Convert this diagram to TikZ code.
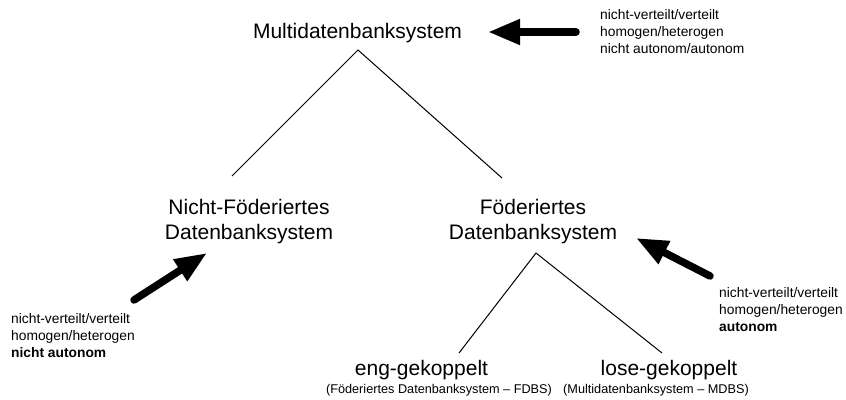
\documentclass[tikz,border=0pt]{standalone}
\usepackage{fontspec}
\setmainfont{Liberation Sans}
\usetikzlibrary{arrows.meta}
\begin{document}
\begin{tikzpicture}[x=1pt,y=-1pt,
  title/.style={font=\fontsize{21}{25}\selectfont, align=center, inner sep=0pt, anchor=base},
  subtitle/.style={font=\fontsize{12.7}{15}\selectfont, inner sep=0pt, anchor=base},
  note/.style={font=\fontsize{13.8}{17}\selectfont, align=left, inner sep=0pt, anchor=base west},
  branch/.style={line width=1pt},
  bigarrow/.style={line width=7.5pt, line cap=round, -{Triangle[length=32pt,width=24pt]}}]
\useasboundingbox (0,0) rectangle (846,399);

% hierarchy labels (multi-line nodes are placed by their last baseline)
\node[title] (mdbs) at (357.5,38) {Multidatenbanksystem};
\node[title] (nfdbs) at (249,239) {Nicht-Föderiertes\\Datenbanksystem};
\node[title] (fdbs) at (533,239) {Föderiertes\\Datenbanksystem};
\node[title] (eng) at (421.5,375) {eng-gekoppelt};
\node[title] (lose) at (669,375) {lose-gekoppelt};
\node[subtitle] (engsub) at (439,393) {(Föderiertes Datenbanksystem – FDBS)};
\node[subtitle] (losesub) at (656,393) {(Multidatenbanksystem – MDBS)};

% property notes
\node[note] (topnote) at (600,53) {nicht-verteilt/verteilt\\homogen/heterogen\\nicht autonom/autonom};
\node[note] (leftnote) at (11,357) {nicht-verteilt/verteilt\\homogen/heterogen\\\textbf{nicht autonom}};
\node[note] (rightnote) at (719,331) {nicht-verteilt/verteilt\\homogen/heterogen\\\textbf{autonom}};

% tree branches
\coordinate (mdbs-fork) at (358,50);
\coordinate (nfdbs-top) at (232,176);
\coordinate (fdbs-top) at (502,178);
\draw[branch] (nfdbs-top) -- (mdbs-fork) -- (fdbs-top);
\coordinate (fdbs-fork) at (536,253);
\coordinate (eng-top) at (459,353);
\coordinate (lose-top) at (662,353);
\draw[branch] (eng-top) -- (fdbs-fork) -- (lose-top);

% arrows from the notes to the systems
\coordinate (topnote-tail) at (576,32);
\coordinate (mdbs-in) at (488,32);
\draw[bigarrow] (topnote-tail) -- (mdbs-in);
\coordinate (leftnote-tail) at (134,300);
\coordinate (nfdbs-in) at (207,253);
\draw[bigarrow] (leftnote-tail) -- (nfdbs-in);
\coordinate (rightnote-tail) at (710,276);
\coordinate (fdbs-in) at (636,238);
\draw[bigarrow] (rightnote-tail) -- (fdbs-in);
\end{tikzpicture}
\end{document}
